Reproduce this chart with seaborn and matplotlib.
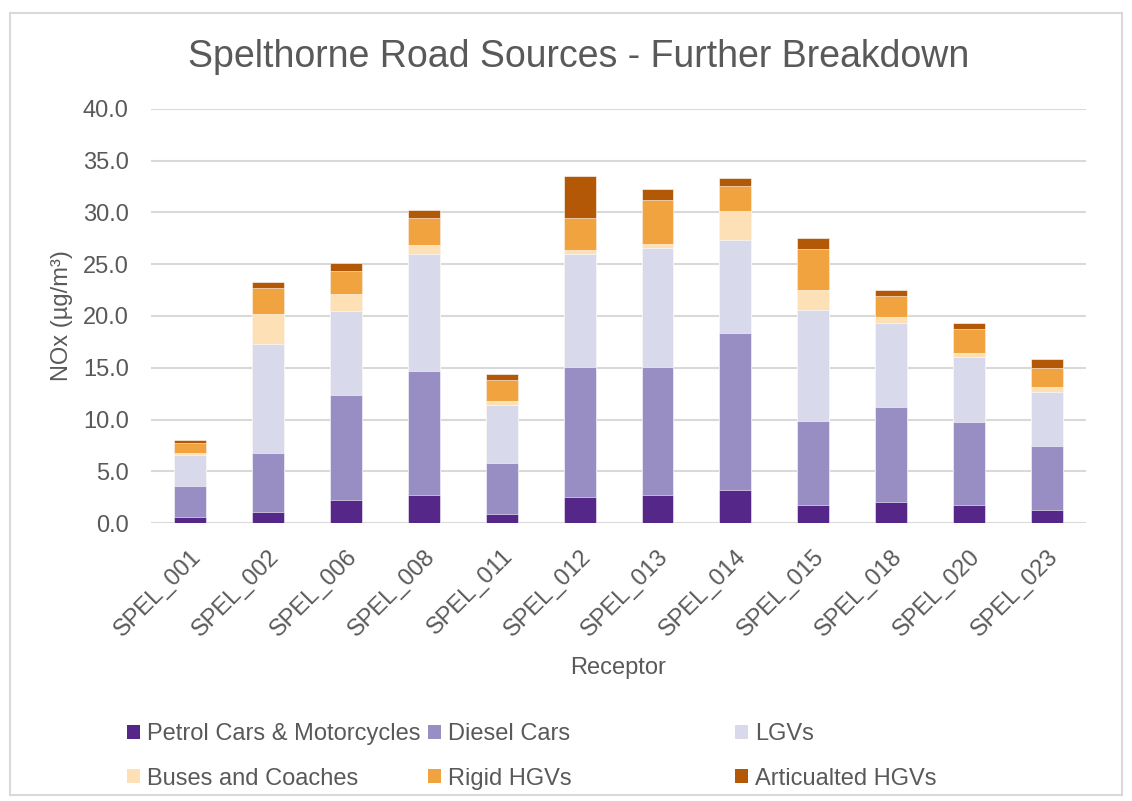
import numpy as np
import pandas as pd
import seaborn as sns
import matplotlib.pyplot as plt
from matplotlib.patches import Patch, Rectangle

receptors = ["SPEL_001", "SPEL_002", "SPEL_006", "SPEL_008", "SPEL_011", "SPEL_012",
             "SPEL_013", "SPEL_014", "SPEL_015", "SPEL_018", "SPEL_020", "SPEL_023"]

petrol = [0.6, 1.1, 2.2, 2.7, 0.9, 2.5, 2.7, 3.2, 1.7, 2.0, 1.7, 1.3]
diesel = [3.0, 5.7, 10.2, 12.0, 4.9, 12.6, 12.4, 15.2, 8.2, 9.2, 8.1, 6.1]
lgvs = [3.0, 10.5, 8.1, 11.3, 5.6, 10.9, 11.5, 8.9, 10.7, 8.1, 6.2, 5.3]
buses = [0.2, 2.9, 1.6, 0.9, 0.4, 0.4, 0.4, 2.8, 1.9, 0.6, 0.4, 0.4]
rigid = [0.9, 2.5, 2.2, 2.6, 2.0, 3.1, 4.2, 2.5, 4.0, 2.0, 2.3, 1.9]
artic = [0.3, 0.6, 0.8, 0.75, 0.6, 4.0, 1.1, 0.7, 1.0, 0.6, 0.6, 0.8]

sources = ["Petrol Cars & Motorcycles", "Diesel Cars", "LGVs",
           "Buses and Coaches", "Rigid HGVs", "Articualted HGVs"]
colours = ["#542788", "#998ec3", "#d8daeb", "#fee0b6", "#f1a340", "#b35806"]

df = pd.DataFrame({"Receptor": receptors, sources[0]: petrol, sources[1]: diesel,
                   sources[2]: lgvs, sources[3]: buses, sources[4]: rigid, sources[5]: artic})
cum = df[sources].cumsum(axis=1)
cum["Receptor"] = df["Receptor"]

sns.set_theme(style="white")
plt.rcParams['font.family'] = ['Liberation Sans', 'DejaVu Sans']
grey = "#595959"
fs = 17

fig = plt.figure(figsize=(11.32, 8.01), dpi=100)
ax = fig.add_axes([0.1334, 0.347, 0.826, 0.517])

# draw cumulative totals from the top layer down so they stack visually
for src, col in reversed(list(zip(sources, colours))):
    sns.barplot(data=cum, x="Receptor", y=src, color=col, width=0.41, saturation=1,
                edgecolor="white", linewidth=0.4, ax=ax, zorder=3)

ax.set_ylim(0, 40)
ax.set_yticks(np.arange(0, 40.1, 5))
ax.set_yticklabels([f"{v:.1f}" for v in np.arange(0, 40.1, 5)])
ax.grid(axis="y", color="#d9d9d9", linewidth=1.5, zorder=0)
ax.set_axisbelow(True)
for s in ax.spines.values():
    s.set_visible(False)
ax.tick_params(axis="both", length=0, labelsize=fs, labelcolor=grey)
ax.tick_params(axis="y", pad=16)
ax.tick_params(axis="x", pad=16)
plt.setp(ax.get_xticklabels(), rotation=45, ha="right", va="top", rotation_mode="anchor")

ax.set_xlabel("Receptor", fontsize=fs, color=grey, labelpad=12)
ax.set_ylabel("NOx (µg/m³)", fontsize=fs, color=grey, labelpad=7)

fig.text(0.511, 0.929, "Spelthorne Road Sources - Further Breakdown",
         ha="center", va="center", fontsize=27, color=grey)

# legend: three columns, each placed separately
xs = [0.112, 0.378, 0.649]
for i, x in enumerate(xs):
    idx = [i, i + 3]
    handles = [Patch(facecolor=colours[j], edgecolor="none") for j in idx]
    fig.legend(handles, [sources[j] for j in idx], loc="upper left",
               bbox_to_anchor=(x, 0.097), frameon=False, fontsize=fs,
               labelcolor=grey, handlelength=0.55, handleheight=0.55,
               handletextpad=0.3, labelspacing=0.95, borderpad=0, borderaxespad=0)

fig.patches.append(Rectangle((0.009, 0.007), 0.982, 0.977, transform=fig.transFigure,
                             fill=False, edgecolor="#d9d9d9", linewidth=1.5))

fig.savefig("out.png", dpi=100, facecolor="white")
